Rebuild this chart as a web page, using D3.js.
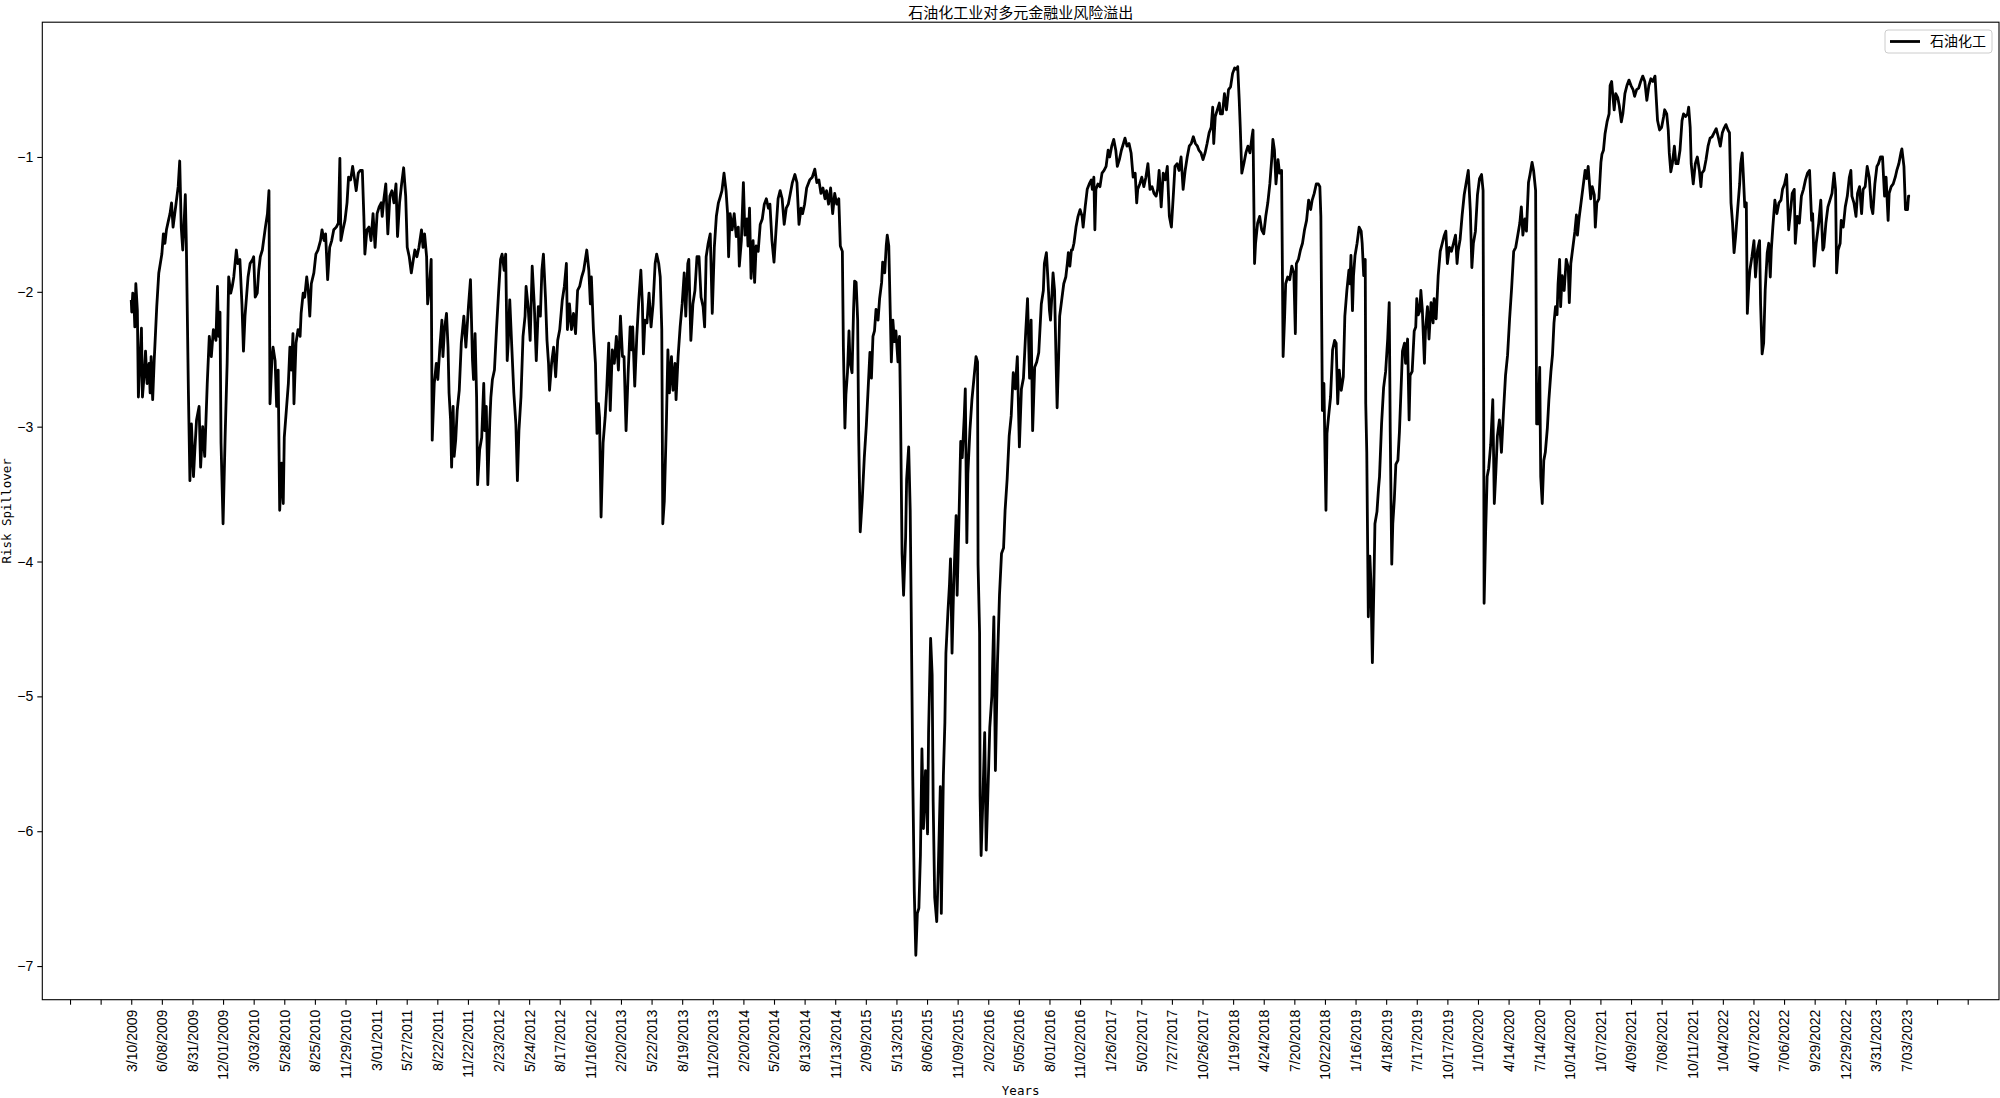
<!DOCTYPE html>
<html>
<head>
<meta charset="utf-8">
<script src="https://cdn.jsdelivr.net/npm/d3@7"></script>
<style>
  body { margin: 0; background: #fff; }
  svg { display: block; }
</style>
</head>
<body>
<svg id="chart" width="2000" height="1098"></svg>
<script>
// trading-day position of each reading (0 = 3/10/2009) and the spillover value
var tradeDay = [
    0,1,3,5,7,9,12,14,17,20,22,26,28,31,35,37,39,42,45,50,54,60,63,66,69,73,76,79,82,88,92,95,98,101,103,106,108,112,115,118,122,125,128,133,136,140,144,149,153,157,161,166,169,171,174,176,180,184,188,191,195,198,201,206,209,213,217,220,223,229,233,238,240,243,247,250,253,257,263,267,270,272,276,278,282,285,288,291,295,298,300,304,308,311,314,317,319,323,327,331,333,337,340,344,347,350,353,358,362,366,371,374,378,381,385,389,393,397,402,406,409,411,415,419,423,426,430,434,438,441,445,449,453,456,458,462,466,470,474,478,482,486,490,492,495,499,503,507,511,515,519,522,526,530,534,538,541,545,549,553,556,560,564,
    569,572,575,579,581,584,588,590,594,598,601,605,609,611,614,618,621,623,626,628,631,633,636,639,643,647,652,656,661,665,669,671,674,677,679,683,687,691,693,696,699,703,705,708,712,716,720,724,727,731,734,737,739,742,746,750,754,757,760,764,768,772,774,778,782,786,790,794,798,802,805,808,812,815,818,820,824,828,832,836,840,845,849,853,855,859,863,867,871,875,879,883,887,891,893,897,900,902,906,910,913,916,918,921,925,929,932,936,939,943,947,951,955,959,963,966,970,974,978,981,983,987,991,995,999,1002,1004,1007,1011,1015,1019,1023,1027,1030,1034,1037,1040,1042,1045,1049,1052,1055,1059,1062,1066,1068,1072,1076,1080,1084,1087,1091,1093,1097,1101,1105,1109,1113,1117,1121,1124,1127,1131,1135,1139,1143,1147,1151,1155,1158,1162,1166,1169,1171,1174,1178,1182,1186,1190,1192,
    1196,1200,1203,1207,1209,1212,1215,1219,1222,1225,1229,1233,1237,1241,1245,1249,1252,1256,1260,1264,1268,1272,1276,1280,1284,1288,1292,1296,1301,1305,1309,1313,1316,1320,1324,1330,1335,1340,1344,1348,1352,1356,1360,1363,1367,1371,1375,1379,1383,1387,1390,1394,1396,1399,1401,1404,1407,1409,1413,1416,1418,1421,1424,1426,1429,1433,1437,1441,1444,1448,1451,1454,1457,1460,1464,1467,1471,1473,1477,1480,1482,1485,1488,1490,1493,1496,1499,1503,1506,1508,1511,1514,1518,1520,1524,1527,1529,1532,1535,1538,1541,1544,1547,1550,1553,1557,1561,1563,1567,1570,1572,1575,1579,1582,1586,1588,1592,1595,1597,1601,1604,1606,1609,1612,1614,1617,1619,1623,1626,1629,1633,1635,1638,1640,1644,1648,1652,1656,1659,1660,1663,1664,1666,1669,1673,1676,1680,1683,1687,1691,1694,1698,1702,1706,1710,1713,1717,1721,1725,1729,1733,1737,1741,1745,1749,1753,1757,1761,1764,1767,1771,1775,1779,
    1784,1788,1790,1794,1797,1800,1802,1805,1807,1810,1813,1815,1818,1820,1824,1828,1832,1835,1837,1840,1843,1845,1848,1852,1856,1860,1864,1866,1870,1874,1878,1882,1884,1887,1889,1891,1895,1899,1903,1907,1911,1915,1918,1922,1926,1930,1933,1937,1941,1945,1948,1952,1956,1960,1964,1968,1971,1973,1977,1981,1985,1989,1993,1997,2001,2005,2009,2012,2015,2019,2023,2027,2031,2035,2039,2043,2046,2050,2054,2058,2062,2066,2070,2074,2078,2082,2086,2090,2093,2097,2101,2105,2109,2113,2117,2120,2122,2125,2129,2133,2135,2139,2143,2147,2151,2155,2159,2163,2167,2169,2172,2174,2177,2181,2185,2189,2193,2197,2199,2202,2204,2208,2212,2216,2220,2224,2228,2232,2236,2238,2241,2244,2248,2251,2255,2258,2261,2263,2267,2271,2275,2279,2282,2284,2288,2292,2296,2300,2304,2308,2312,2315,2319,2323,2327,2330,2332,2335,2338,2340,2342,2344,2347,2351,2355,2359,2362,2365,2368,2372,2376,2379,2383,2387,
    2389,2391,2394,2396,2399,2403,2407,2411,2413,2416,2419,2420,2422,2425,2428,2430,2433,2436,2438,2442,2445,2447,2451,2455,2459,2463,2466,2468,2471,2473,2476,2479,2483,2486,2489,2492,2496,2498,2502,2505,2507,2511,2515,2518,2520,2523,2526,2528,2531,2535,2537,2541,2544,2548,2552,2554,2558,2562,2566,2570,2574,2577,2580,2584,2588,2592,2596,2599,2601,2605,2609,2613,2617,2621,2625,2628,2631,2635,2639,2643,2647,2650,2651,2652,2655,2658,2661,2665,2669,2672,2675,2678,2682,2686,2690,2694,2698,2702,2706,2710,2714,2718,2722,2725,2728,2732,2735,2739,2742,2746,2749,2753,2755,2758,2761,2763,2766,2769,2772,2776,2779,2783,2786,2789,2792,2795,2797,2800,2802,2805,2809,2813,2817,2819,2822,2826,2830,2833,2835,2838,2842,2846,2850,2853,2856,2859,2861,2864,2868,2870,2873,2877,2881,2883,2886,2889,2893,2897,2899,2902,2904,2907,2910,2914,2917,2921,2924,2928,2932,2936,2940,2944,2947,2951,2955,2959,2963,2967,2971,2975,2979,2983,2987,
    2992,2996,3000,3004,3006,3010,3013,3015,3018,3021,3025,3028,3032,3036,3040,3043,3047,3051,3053,3056,3058,3062,3066,3070,3074,3077,3079,3083,3087,3091,3095,3099,3103,3107,3111,3115,3119,3122,3126,3130,3133,3136,3139,3142,3145,3149,3153,3155,3158,3160,3163,3166,3168,3171,3173,3177,3181,3184,3188,3192,3194,3197,3200,3203,3207,3210,3213,3215,3218,3222,3226,3230,3234,3237,3241,3245,3249,3253,3256,3260,3262,3266,3270,3274,3278,3282,3286,3290,3294,3296,3299,3303,3308,3312,3316,3318,3322,3326,3330,3334,3338,3341,3343,3346,3350,3352,3356,3360,3364,3368,3371,3373,3377,3381,3384,3388,3392,3395,3399,3403,3407,3411,3414,3418,3422,3425,3429,3433,3437,3440,3444,3446,3450,3454,3458,3461,3465,3469,3471,3475,3478,3482,3484,3487
];

var riskSpill = [
    -2.06,-2.15,-2.01,-2.04,-2.26,-1.94,-2.14,-2.78,-2.53,-2.27,-2.78,-2.58,-2.44,-2.68,-2.53,-2.75,-2.48,-2.80,-2.51,-2.11,-1.86,-1.72,-1.57,-1.64,-1.54,-1.47,-1.42,-1.34,-1.52,-1.34,-1.22,-1.03,-1.52,-1.69,-1.54,-1.28,-1.64,-2.73,-3.40,-2.98,-3.37,-3.15,-2.95,-2.85,-3.30,-3.00,-3.22,-2.68,-2.33,-2.48,-2.28,-2.36,-1.96,-2.33,-2.15,-3.12,-3.72,-3.08,-2.53,-1.89,-2.01,-1.96,-1.89,-1.69,-1.79,-1.76,-2.09,-2.44,-2.18,-1.89,-1.79,-1.76,-1.74,-2.04,-2.01,-1.84,-1.74,-1.69,-1.52,-1.42,-1.25,-2.83,-2.48,-2.41,-2.51,-2.85,-2.58,-3.62,-3.27,-3.57,-3.08,-2.88,-2.68,-2.41,-2.58,-2.31,-2.83,-2.38,-2.28,-2.33,-2.16,-2.01,-2.04,-1.89,-1.99,-2.18,-1.94,-1.86,-1.72,-1.69,-1.62,-1.54,-1.62,-1.57,-1.91,-1.67,-1.62,-1.54,-1.52,-1.49,-1.01,-1.62,-1.54,-1.47,-1.34,-1.15,-1.17,-1.07,-1.17,-1.25,-1.12,-1.10,-1.10,-1.44,-1.72,-1.54,-1.52,-1.62,-1.42,-1.67,-1.42,-1.37,-1.34,-1.44,-1.32,-1.20,-1.57,-1.29,-1.25,-1.34,-1.20,-1.59,-1.34,-1.20,-1.08,-1.29,-1.67,-1.74,-1.86,-1.76,-1.69,-1.74,-1.67,
    -1.54,-1.67,-1.57,-1.74,-2.09,-1.99,-1.76,-3.10,-2.68,-2.53,-2.65,-2.41,-2.21,-2.48,-2.28,-2.16,-2.41,-2.75,-2.95,-3.30,-2.85,-3.22,-3.10,-2.88,-2.73,-2.38,-2.18,-2.41,-2.11,-1.91,-2.51,-2.65,-2.31,-2.78,-3.43,-3.17,-3.08,-2.68,-3.03,-2.85,-3.43,-2.95,-2.78,-2.65,-2.58,-2.28,-2.01,-1.76,-1.72,-1.84,-1.72,-2.51,-2.38,-2.06,-2.41,-2.75,-2.98,-3.40,-3.03,-2.78,-2.33,-2.18,-1.96,-2.11,-2.36,-1.81,-2.09,-2.51,-2.11,-2.18,-1.84,-1.72,-2.04,-2.36,-2.53,-2.73,-2.53,-2.41,-2.63,-2.36,-2.28,-2.06,-1.96,-1.79,-2.28,-2.09,-2.28,-2.16,-2.31,-1.99,-1.96,-1.89,-1.84,-1.74,-1.69,-1.84,-2.09,-1.89,-2.28,-2.53,-3.05,-2.83,-2.93,-3.67,-3.12,-2.93,-2.73,-2.38,-2.88,-2.43,-2.53,-2.33,-2.58,-2.18,-2.48,-2.48,-3.03,-2.61,-2.26,-2.43,-2.26,-2.70,-2.33,-2.06,-1.84,-2.09,-2.46,-2.21,-2.23,-2.01,-2.26,-2.09,-1.79,-1.72,-1.79,-1.89,-2.28,-3.72,-3.55,-2.98,-2.43,-2.75,-2.48,-2.73,-2.53,-2.80,-2.48,-2.26,-2.09,-1.86,-2.18,-1.79,-1.76,-2.36,-2.09,-1.99,-1.74,-1.74,-2.04,-2.11,-2.26,-1.74,-1.64,-1.57,-2.16,-1.67,-1.44,-1.34,-1.29,-1.25,-1.12,-1.25,-1.42,-1.74,-1.42,-1.54,-1.42,-1.59,-1.52,-1.81,
    -1.62,-1.19,-1.58,-1.46,-1.66,-1.38,-1.90,-1.62,-1.93,-1.66,-1.70,-1.50,-1.46,-1.35,-1.31,-1.38,-1.35,-1.62,-1.78,-1.54,-1.31,-1.25,-1.31,-1.50,-1.38,-1.35,-1.27,-1.19,-1.13,-1.19,-1.50,-1.38,-1.42,-1.35,-1.23,-1.17,-1.15,-1.09,-1.19,-1.17,-1.27,-1.23,-1.31,-1.25,-1.35,-1.23,-1.42,-1.27,-1.35,-1.31,-1.66,-1.70,-2.41,-3.01,-2.76,-2.60,-2.29,-2.52,-2.60,-2.13,-1.92,-1.93,-2.21,-3.07,-3.78,-3.54,-3.23,-2.99,-2.76,-2.45,-2.64,-2.33,-2.29,-2.13,-2.21,-2.05,-1.93,-1.78,-1.86,-1.66,-1.58,-1.66,-2.17,-2.52,-2.21,-2.37,-2.29,-2.52,-2.33,-2.88,-3.94,-4.25,-3.82,-3.39,-3.15,-3.62,-4.37,-5.59,-6.45,-6.92,-6.61,-6.57,-6.18,-5.39,-5.98,-5.55,-6.02,-5.27,-4.57,-4.84,-5.78,-6.49,-6.67,-6.29,-5.67,-6.61,-5.59,-5.19,-4.68,-4.37,-4.17,-3.98,-4.68,-4.21,-3.98,-3.66,-4.25,-3.62,-3.11,-3.23,-2.92,-2.72,-3.86,-3.35,-3.03,-2.80,-2.64,-2.48,-2.52,-4.02,-4.53,-5.74,-6.18,-5.82,-5.27,-6.14,-5.63,-5.23,-5.00,-4.41,-5.55,-4.76,-4.25,-3.94,-3.90,-3.62,-3.39,-3.07,-2.92,-2.60,-2.72,-2.48,-3.15,-2.72,-2.64,-2.33,-2.05,-2.64,-2.21,-3.03,-2.56,-2.52,-2.45,
    -2.09,-1.99,-1.79,-1.71,-1.91,-2.14,-2.21,-2.01,-1.86,-1.99,-2.53,-2.86,-2.48,-2.18,-2.06,-1.94,-1.89,-1.79,-1.71,-1.81,-1.69,-1.69,-1.64,-1.52,-1.44,-1.39,-1.44,-1.52,-1.37,-1.24,-1.20,-1.17,-1.24,-1.15,-1.54,-1.24,-1.20,-1.22,-1.12,-1.10,-1.07,-0.95,-1.00,-0.92,-0.87,-0.95,-1.07,-1.02,-0.95,-0.90,-0.86,-0.92,-0.90,-0.97,-1.15,-1.12,-1.34,-1.24,-1.20,-1.15,-1.22,-1.15,-1.05,-1.24,-1.22,-1.27,-1.29,-1.24,-1.10,-1.37,-1.12,-1.17,-1.07,-1.44,-1.52,-1.27,-1.07,-1.05,-1.10,-1.00,-1.24,-1.10,-1.00,-0.92,-0.90,-0.85,-0.90,-0.92,-0.95,-0.97,-1.02,-0.97,-0.90,-0.82,-0.78,-0.63,-0.90,-0.70,-0.65,-0.60,-0.68,-0.68,-0.53,-0.65,-0.50,-0.48,-0.38,-0.34,-0.35,-0.33,-0.58,-0.78,-1.12,-1.05,-0.97,-0.92,-0.97,-0.85,-0.80,-1.79,-1.64,-1.49,-1.44,-1.54,-1.57,-1.44,-1.34,-1.20,-1.00,-0.87,-0.95,-1.20,-1.02,-1.12,-1.10,-2.48,-2.18,-1.94,-1.89,-1.91,-1.81,-1.86,-2.31,-1.79,-1.76,-1.69,-1.64,-1.54,-1.47,-1.32,-1.39,-1.32,-1.27,-1.20,-1.20,-1.22,-1.44,-2.88,-2.68,-3.17,-3.62,-3.05,-2.93,-2.78,-2.43,-2.36,-2.38,-2.83,-2.58,-2.73,-2.63,-2.18,-1.99,-1.84,
    -1.94,-1.73,-2.14,-1.88,-1.73,-1.64,-1.52,-1.55,-1.64,-1.88,-1.76,-2.83,-3.19,-4.41,-3.96,-4.14,-4.75,-4.17,-3.72,-3.63,-3.46,-3.37,-2.98,-2.71,-2.59,-2.35,-2.08,-3.04,-4.02,-3.72,-3.54,-3.28,-3.25,-3.04,-2.74,-2.44,-2.38,-2.53,-2.35,-2.95,-2.62,-2.59,-2.29,-2.26,-2.05,-2.17,-2.14,-1.99,-2.14,-2.53,-2.29,-2.11,-2.35,-2.08,-2.23,-2.05,-2.20,-1.88,-1.70,-1.64,-1.58,-1.55,-1.79,-1.67,-1.70,-1.64,-1.58,-1.79,-1.70,-1.61,-1.43,-1.28,-1.19,-1.10,-1.40,-1.82,-1.64,-1.55,-1.28,-1.16,-1.13,-1.25,-2.59,-4.31,-3.78,-3.37,-3.31,-3.13,-2.80,-3.57,-3.34,-3.07,-2.95,-3.19,-2.89,-2.62,-2.47,-2.20,-1.97,-1.70,-1.67,-1.58,-1.49,-1.37,-1.58,-1.46,-1.55,-1.19,-1.13,-1.04,-1.10,-1.25,-2.98,-2.98,-2.56,-3.37,-3.57,-3.25,-3.19,-3.01,-2.80,-2.59,-2.47,-2.23,-2.11,-2.17,-1.94,-1.76,-2.11,-1.88,-1.99,-1.76,-1.82,-2.08,-1.79,-1.67,-1.55,-1.43,-1.58,-1.46,-1.34,-1.22,-1.10,-1.16,-1.07,-1.22,-1.31,-1.22,-1.28,-1.52,-1.34,-1.31,-1.04,-0.98,-0.95,-0.83,-0.74,-0.68,-0.47,-0.44,-0.53,-0.65,-0.53,-0.56,-0.62,-0.74,-0.68,-0.53,-0.47,-0.43,-0.47,-0.50,-0.55,-0.50,-0.49,-0.44,-0.40,-0.44,-0.58,-0.47,-0.42,-0.44,-0.40,
    -0.73,-0.80,-0.78,-0.70,-0.65,-0.68,-0.80,-0.97,-1.11,-1.05,-0.92,-1.05,-1.05,-0.95,-0.73,-0.68,-0.70,-0.68,-0.63,-0.78,-1.05,-1.20,-1.05,-1.00,-1.10,-1.22,-1.12,-1.10,-1.02,-0.92,-0.86,-0.85,-0.82,-0.79,-0.85,-0.92,-0.82,-0.79,-0.76,-0.80,-0.82,-1.34,-1.49,-1.71,-1.59,-1.39,-1.20,-1.05,-0.97,-1.12,-1.37,-1.34,-2.16,-1.94,-1.84,-1.74,-1.62,-1.89,-1.69,-1.62,-2.09,-2.46,-2.38,-1.99,-1.71,-1.64,-1.89,-1.69,-1.52,-1.32,-1.42,-1.34,-1.32,-1.24,-1.20,-1.13,-1.54,-1.39,-1.27,-1.24,-1.64,-1.44,-1.49,-1.29,-1.24,-1.17,-1.12,-1.10,-1.47,-1.42,-1.81,-1.64,-1.49,-1.32,-1.69,-1.67,-1.49,-1.37,-1.32,-1.27,-1.12,-1.24,-1.86,-1.69,-1.64,-1.47,-1.52,-1.37,-1.29,-1.15,-1.10,-1.29,-1.34,-1.44,-1.27,-1.22,-1.42,-1.24,-1.22,-1.07,-1.15,-1.37,-1.42,-1.20,-1.07,-1.05,-1.00,-1.00,-1.29,-1.15,-1.47,-1.27,-1.22,-1.20,-1.15,-1.10,-1.05,-0.97,-0.94,-1.07,-1.39,-1.39,-1.29,-1.29
];

// one date label every 60 trading days, starting at day 0
var tickLabels = [
    "3/10/2009","6/08/2009","8/31/2009","12/01/2009","3/03/2010","5/28/2010","8/25/2010","11/29/2010",
    "3/01/2011","5/27/2011","8/22/2011","11/22/2011","2/23/2012","5/24/2012","8/17/2012","11/16/2012",
    "2/20/2013","5/22/2013","8/19/2013","11/20/2013","2/20/2014","5/20/2014","8/13/2014","11/13/2014",
    "2/09/2015","5/13/2015","8/06/2015","11/09/2015","2/02/2016","5/05/2016","8/01/2016","11/02/2016",
    "1/26/2017","5/02/2017","7/27/2017","10/26/2017","1/19/2018","4/24/2018","7/20/2018","10/22/2018",
    "1/16/2019","4/18/2019","7/17/2019","10/17/2019","1/10/2020","4/14/2020","7/14/2020","10/14/2020",
    "1/07/2021","4/09/2021","7/08/2021","10/11/2021","1/04/2022","4/07/2022","7/06/2022","9/29/2022",
    "12/29/2022","3/31/2023","7/03/2023"
];
var yTicks = [-7, -6, -5, -4, -3, -2, -1];

var chartTitle = "石油化工业对多元金融业风险溢出";
var seriesName = "石油化工";

function drawChart() {
    var svg = d3.select("#chart");

    var left = 42.3, right = 1999, top = 22.2, bottom = 999.7;

    var lastDay = tradeDay[tradeDay.length - 1];
    var xPad = lastDay * 0.05;
    var x = d3.scaleLinear()
        .domain([-xPad, lastDay + xPad])
        .range([left, right]);

    var ext = d3.extent(riskSpill);
    var yPad = (ext[1] - ext[0]) * 0.05;
    var y = d3.scaleLinear()
        .domain([ext[0] - yPad, ext[1] + yPad])
        .range([bottom, top]);

    var points = tradeDay.map(function (d, i) { return [d, riskSpill[i]]; });

    var line = d3.line()
        .x(function (d) { return x(d[0]); })
        .y(function (d) { return y(d[1]); });

    svg.append("path")
        .datum(points)
        .attr("fill", "none")
        .attr("stroke", "#000")
        .attr("stroke-width", 2.8)
        .attr("stroke-linejoin", "round")
        .attr("d", line);

    // x ticks every 60 days, two extra unlabeled ones on each side
    var xTickVals = [];
    for (var t = -120; t <= lastDay + 120; t += 60) xTickVals.push(t);

    var xAxis = svg.append("g")
        .attr("transform", "translate(0," + bottom + ")")
        .call(d3.axisBottom(x)
            .tickValues(xTickVals)
            .tickSizeInner(5)
            .tickSizeOuter(0)
            .tickFormat(function (d) {
                var k = d / 60;
                return (k >= 0 && k < tickLabels.length) ? tickLabels[k] : "";
            }));
    xAxis.select(".domain").remove();
    xAxis.selectAll(".tick line").attr("stroke", "#000").attr("stroke-width", 1.1);
    xAxis.selectAll(".tick text")
        .attr("transform", "rotate(-90)")
        .attr("text-anchor", "end")
        .attr("x", -10)
        .attr("y", 0)
        .attr("dy", "0.35em")
        .attr("fill", "#000")
        .style("font-family", "'Liberation Sans', Arial, sans-serif")
        .style("font-size", "14px");

    var yAxis = svg.append("g")
        .attr("transform", "translate(" + left + ",0)")
        .call(d3.axisLeft(y)
            .tickValues(yTicks)
            .tickSizeInner(5)
            .tickSizeOuter(0)
            .tickPadding(4)
            .tickFormat(d3.format("d")));
    yAxis.select(".domain").remove();
    yAxis.selectAll(".tick line").attr("stroke", "#000").attr("stroke-width", 1.1);
    yAxis.selectAll(".tick text")
        .attr("fill", "#000")
        .style("font-family", "'Liberation Sans', Arial, sans-serif")
        .style("font-size", "14px");

    // frame
    svg.append("rect")
        .attr("x", left)
        .attr("y", top)
        .attr("width", right - left)
        .attr("height", bottom - top)
        .attr("fill", "none")
        .attr("stroke", "#000")
        .attr("stroke-width", 1.1);

    svg.append("text")
        .attr("x", (left + right) / 2)
        .attr("y", 18)
        .attr("text-anchor", "middle")
        .style("font-family", "'Noto Sans CJK SC', sans-serif")
        .style("font-size", "15px")
        .text(chartTitle);

    svg.append("text")
        .attr("x", (left + right) / 2)
        .attr("y", 1095)
        .attr("text-anchor", "middle")
        .style("font-family", "'DejaVu Sans Mono', monospace")
        .style("font-size", "12.5px")
        .text("Years");

    svg.append("text")
        .attr("transform", "translate(11," + ((top + bottom) / 2) + ") rotate(-90)")
        .attr("text-anchor", "middle")
        .style("font-family", "'DejaVu Sans Mono', monospace")
        .style("font-size", "12.5px")
        .text("Risk Spillover");

    // legend
    var lg = svg.append("g").attr("transform", "translate(1885,30)");
    lg.append("rect")
        .attr("width", 107)
        .attr("height", 23)
        .attr("rx", 3)
        .attr("fill", "#fff")
        .attr("fill-opacity", 0.8)
        .attr("stroke", "#cccccc");
    lg.append("line")
        .attr("x1", 5).attr("x2", 35)
        .attr("y1", 11.5).attr("y2", 11.5)
        .attr("stroke", "#000")
        .attr("stroke-width", 2.8);
    lg.append("text")
        .attr("x", 45)
        .attr("y", 11.5)
        .attr("dy", "0.35em")
        .style("font-family", "'Noto Sans CJK SC', sans-serif")
        .style("font-size", "14px")
        .text(seriesName);
}

drawChart();
</script>
</body>
</html>
